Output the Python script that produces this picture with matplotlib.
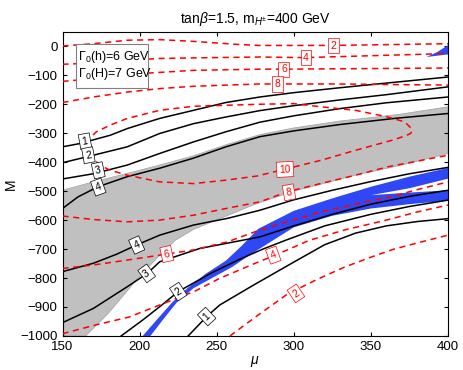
import numpy as np
import matplotlib
matplotlib.use("Agg")
import matplotlib.pyplot as plt
from matplotlib.patches import Polygon, Rectangle

plt.rcParams['font.family'] = ['Liberation Sans', 'DejaVu Sans']
plt.rcParams['mathtext.fontset'] = 'custom'
plt.rcParams['mathtext.rm'] = 'Liberation Sans'
plt.rcParams['mathtext.it'] = 'Liberation Sans:italic'

# shaded region (gray): upper and lower edges
gray_top_mu = [150, 170, 192, 213, 235, 256, 278, 300, 330, 367, 400]
gray_top_M = [-497, -468, -439, -410, -378, -340, -305, -282, -258, -236, -209]
gray_bot_mu = [165, 180, 199, 210, 223, 235, 252, 275, 300, 340, 370, 400]
gray_bot_M = [-1000, -920, -800, -738, -670, -632, -595, -545, -500, -445, -410, -370]

# blue band
blue_up_mu = [202, 211, 221, 231, 243, 256, 266, 277, 300, 325, 350, 375, 400]
blue_up_M = [-1000, -945, -885, -835, -785, -740, -690, -630, -568, -525, -485, -450, -420]
blue_lo_mu = [207, 215, 224, 235, 247, 260, 271, 282, 300, 325, 350, 375, 400]
blue_lo_M = [-1000, -945, -885, -835, -800, -762, -722, -685, -625, -585, -560, -545, -533]
split_mu = [350, 375, 400, 400, 375]
split_M = [-514, -490, -457, -497, -505]
blue_tip_mu = [386, 393, 400, 400]
blue_tip_M = [-37, -20, 4, -28]

# black contours (upper set)
k1_mu = [150, 161, 181, 192, 213, 235, 256, 278, 300, 330, 360, 400]
k1_M = [-347, -336, -307, -284, -249, -221, -194, -175, -160, -143, -127, -106]
k2_mu = [150, 170, 192, 213, 235, 256, 278, 300, 330, 360, 400]
k2_M = [-402, -376, -347, -301, -267, -244, -222, -205, -185, -167, -140]
k3_mu = [150, 170, 192, 213, 235, 256, 278, 300, 330, 360, 400]
k3_M = [-458, -440, -410, -370, -330, -295, -262, -240, -215, -195, -175]
k4_mu = [150, 160, 173, 192, 213, 235, 256, 278, 300, 330, 367, 400]
k4_M = [-560, -520, -485, -450, -421, -386, -347, -312, -292, -270, -248, -232]

# black contours (lower set)
j4_mu = [150, 170, 185, 198, 213, 235, 257, 278, 300, 325, 350, 375, 400]
j4_M = [-778, -749, -718, -686, -652, -617, -594, -566, -530, -497, -467, -440, -418]
j3_mu = [150, 170, 192, 205, 213, 239, 278, 300, 325, 350, 375, 400]
j3_M = [-954, -905, -830, -784, -744, -698, -658, -620, -580, -545, -518, -497]
j2_mu = [188, 202, 214, 225, 246, 265, 280, 295, 320, 350, 375, 400]
j2_M = [-1000, -945, -895, -847, -784, -735, -700, -669, -620, -580, -553, -531]
j1_mu = [231.5, 243.5, 252, 274, 300, 320, 340, 360, 380, 400]
j1_M = [-1000, -933, -893, -824, -745, -685, -645, -620, -605, -595]

# red dashed contours
r2_mu = [150, 170, 192, 213, 235, 265, 278, 326, 400]
r2_M = [1, 9, 21, 23, 17, 6, 3, 3, 9]
r4_mu = [150, 170, 192, 213, 235, 278, 307, 400]
r4_M = [-62, -58, -48, -42, -40, -37, -39, -25]
r6_mu = [150, 170, 190, 207, 235, 278, 291, 400]
r6_M = [-121, -112, -101, -92, -83, -79, -79, -75]
r8_mu = [150, 170, 192, 213, 235, 278, 326, 400]
r8_M = [-194, -175, -158, -146, -138, -130, -130, -134]
r10_mu = [164.5, 168, 172, 181, 192, 213, 235, 278, 300, 318, 340, 361, 372, 376.5,
          376, 373, 364, 340, 318, 296, 276, 256, 235, 213, 192, 181, 174, 170, 167, 164.5]
r10_M = [-330, -315, -295, -272, -249, -221, -207, -200, -198, -209, -221, -244, -261, -285,
         -300, -308, -324, -359, -393, -422, -448, -462, -474, -468, -445, -428, -410, -387, -360, -330]
s8_mu = [150, 170, 192, 213, 235, 256, 278, 296, 318, 340, 361, 400]
s8_M = [-586, -598, -606, -600, -583, -560, -537, -502, -473, -445, -416, -376]
s6_mu = [150, 170, 192, 218, 235, 257, 275, 296, 318, 340, 361, 380, 400]
s6_M = [-767, -755, -738, -717, -703, -675, -640, -605, -571, -545, -522, -495, -468]
s4_mu = [150, 173, 193, 215, 236, 252, 275, 288, 310, 333, 360, 380, 400]
s4_M = [-992, -960, -935, -889, -845, -801, -749, -721, -670, -634, -600, -572, -548]
s2_mu = [258.6, 275, 296, 315, 333, 350, 365, 383, 400]
s2_M = [-1000, -935, -855, -805, -762, -728, -700, -675, -652]

# contour labels: (mu, M, text, rotation)
black_labels = [(164.6, -328, '1', 10), (166.8, -376, '2', 10), (173.2, -428, '3', 12), (173.2, -486, '4', 20),
                (198.1, -686, '4', 24), (204.6, -784, '3', 36), (225.1, -847, '2', 33), (243.5, -933, '1', 43)]
red_labels = [(325.6, 2, '2', 0), (307.9, -39, '4', 0), (293.6, -80, '6', 0), (289.5, -130, '8', 0),
              (294.3, -425, '10', 3), (296.9, -504, '8', 10), (217.6, -717, '6', 12),
              (286.7, -721, '4', 20), (301.4, -853, '2', 34)]

fig = plt.figure(figsize=(4.63, 3.70), dpi=100)
ax = fig.add_axes([0.135, 0.092, 0.8326, 0.822])

gray_poly = list(zip(gray_top_mu, gray_top_M)) + list(zip(gray_bot_mu[::-1], gray_bot_M[::-1])) + [(150, -1000)]
ax.add_patch(Polygon(gray_poly, closed=True, facecolor='#c0c0c0', edgecolor='#a8a8a8', lw=0.6, zorder=1))

blue = '#2d48f4'
blue_poly = list(zip(blue_up_mu, blue_up_M)) + list(zip(blue_lo_mu[::-1], blue_lo_M[::-1]))
ax.add_patch(Polygon(blue_poly, closed=True, facecolor=blue, edgecolor='none', zorder=2))
ax.add_patch(Polygon(list(zip(split_mu, split_M)), closed=True, facecolor='white', edgecolor='none', zorder=2.1))
ax.add_patch(Polygon(list(zip(blue_tip_mu, blue_tip_M)), closed=True, facecolor=blue, edgecolor='none', zorder=2))

for mu, M in [(k1_mu, k1_M), (k2_mu, k2_M), (k3_mu, k3_M), (k4_mu, k4_M),
              (j4_mu, j4_M), (j3_mu, j3_M), (j2_mu, j2_M), (j1_mu, j1_M)]:
    ax.plot(mu, M, color='black', lw=1.1, zorder=3)

for mu, M in [(r2_mu, r2_M), (r4_mu, r4_M), (r6_mu, r6_M), (r8_mu, r8_M), (r10_mu, r10_M),
              (s8_mu, s8_M), (s6_mu, s6_M), (s4_mu, s4_M), (s2_mu, s2_M)]:
    ax.plot(mu, M, color='red', lw=1.1, ls=(0, (4, 3)), zorder=3)

for x, y, t, r in black_labels:
    ax.text(x, y, t, fontsize=7.5, rotation=r, ha='center', va='center', zorder=5, color='black',
            bbox=dict(boxstyle='square,pad=0.25', fc='white', ec='black', lw=0.5))
for x, y, t, r in red_labels:
    ax.text(x, y, t, fontsize=7.5, rotation=r, ha='center', va='center', zorder=5, color='red',
            bbox=dict(boxstyle='square,pad=0.25', fc='white', ec='red', lw=0.5))

# info box
ax.add_patch(Rectangle((0.035, 0.815), 0.187, 0.145, transform=ax.transAxes,
                       facecolor='white', edgecolor='#808080', lw=0.8, zorder=6))
ax.text(0.04, 0.918, r'$\Gamma_0$(h)=6 GeV', transform=ax.transAxes, fontsize=9,
        va='center', ha='left', zorder=7)
ax.text(0.04, 0.862, r'$\Gamma_0$(H)=7 GeV', transform=ax.transAxes, fontsize=9,
        va='center', ha='left', zorder=7)

ax.set_xlim(150, 400)
ax.set_ylim(-1000, 50)
ax.set_xticks([150, 200, 250, 300, 350, 400])
ax.set_yticks(np.arange(-1000, 1, 100))
ax.tick_params(direction='in', top=True, right=True, labelsize=9.5, length=3)
ax.set_xlabel(r'$\mu$', fontsize=10, labelpad=1)
ax.set_ylabel('M', fontsize=10, labelpad=2)
ax.set_title(r'tan$\beta$=1.5, m$_{H^{\pm}}$=400 GeV', fontsize=10, pad=6)

fig.savefig('out.png', dpi=100)
